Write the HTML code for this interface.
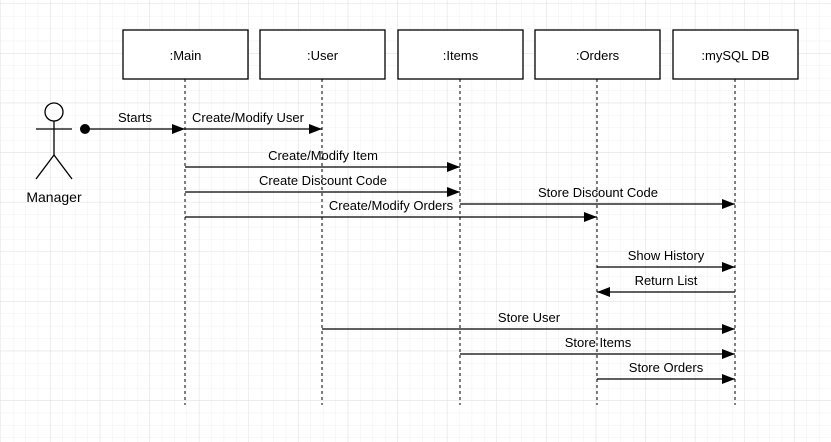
<!DOCTYPE html>
<html><head><style>
html,body{margin:0;padding:0;background:#fff}
svg{display:block}
text{font-family:"Liberation Sans",Arial,sans-serif;font-size:13px;fill:#000}
</style></head><body>
<svg width="831" height="442" viewBox="0 0 831 442" xmlns="http://www.w3.org/2000/svg">
<defs>
<pattern id="g" width="12.4" height="12.4" patternUnits="userSpaceOnUse" x="1" y="4">
<path d="M12.4 0V12.4M0 12.4H12.4" stroke="#f0f0f0" stroke-width="1" fill="none"/>
</pattern>
<pattern id="G" width="49.6" height="49.6" patternUnits="userSpaceOnUse" x="1" y="4">
<path d="M49.6 0V49.6M0 49.6H49.6" stroke="#e0e0e0" stroke-width="1" fill="none"/>
</pattern>
<marker id="a" markerWidth="13" markerHeight="10" refX="13" refY="5" orient="auto" markerUnits="userSpaceOnUse">
<path d="M0 0L13 5L0 10Z" fill="#000"/>
</marker>
</defs>
<rect width="831" height="442" fill="url(#g)"/>
<rect width="831" height="442" fill="url(#G)"/>
<g fill="#fff" stroke="#000" stroke-width="1.3">
<rect x="123" y="30" width="125" height="49"/>
<rect x="260" y="30" width="125" height="49"/>
<rect x="398" y="30" width="125" height="49"/>
<rect x="535" y="30" width="125" height="49"/>
<rect x="673" y="30" width="125" height="49"/>
</g>
<g text-anchor="middle" style="font-size:14.5px">
<text x="185.5" y="60">:Main</text>
<text x="322.5" y="60">:User</text>
<text x="460.5" y="60">:Items</text>
<text x="597.5" y="60">:Orders</text>
<text x="735.5" y="60">:mySQL DB</text>
</g>
<g stroke="#000" stroke-dasharray="3,3" stroke-width="1">
<line x1="185" y1="79" x2="185" y2="405"/>
<line x1="322" y1="79" x2="322" y2="405"/>
<line x1="460" y1="79" x2="460" y2="405"/>
<line x1="597" y1="79" x2="597" y2="405"/>
<line x1="735" y1="79" x2="735" y2="405"/>
</g>
<g stroke="#000" stroke-width="1.3" fill="none">
<circle cx="54" cy="112" r="9" fill="#fff"/>
<line x1="54" y1="121" x2="54" y2="155"/>
<line x1="36" y1="129" x2="72" y2="129"/>
<line x1="54" y1="155" x2="36" y2="179"/>
<line x1="54" y1="155" x2="72" y2="179"/>
</g>
<text x="54" y="202" text-anchor="middle" style="font-size:14px">Manager</text>
<circle cx="85" cy="129" r="5" fill="#000"/>
<g stroke="#000" stroke-width="1.3" marker-end="url(#a)">
<line x1="85" y1="129" x2="185" y2="129"/>
<line x1="185" y1="129" x2="322" y2="129"/>
<line x1="185" y1="167" x2="460" y2="167"/>
<line x1="185" y1="192" x2="460" y2="192"/>
<line x1="185" y1="217" x2="597" y2="217"/>
<line x1="460" y1="204" x2="735" y2="204"/>
<line x1="597" y1="267" x2="735" y2="267"/>
<line x1="735" y1="292" x2="597" y2="292"/>
<line x1="322" y1="329" x2="735" y2="329"/>
<line x1="460" y1="354" x2="735" y2="354"/>
<line x1="597" y1="379" x2="735" y2="379"/>
</g>
<g text-anchor="middle">
<text x="135" y="122">Starts</text>
<text x="248" y="122">Create/Modify User</text>
<text x="323" y="160">Create/Modify Item</text>
<text x="323" y="185">Create Discount Code</text>
<text x="391" y="210">Create/Modify Orders</text>
<text x="598" y="197">Store Discount Code</text>
<text x="666" y="260">Show History</text>
<text x="666" y="285">Return List</text>
<text x="529" y="322">Store User</text>
<text x="598" y="347">Store Items</text>
<text x="666" y="372">Store Orders</text>
</g>
</svg>
</body></html>
